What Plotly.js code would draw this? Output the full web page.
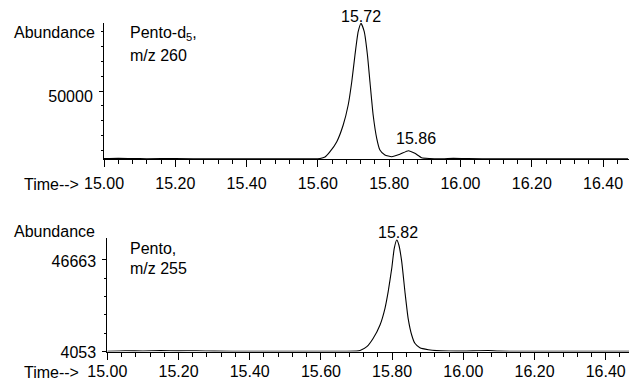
<!DOCTYPE html>
<html>
<head>
<meta charset="utf-8">
<script src="https://cdn.plot.ly/plotly-3.0.1.min.js"></script>
<style>html,body{margin:0;padding:0;background:#fff;}#chart{width:629px;height:387px;}</style>
</head>
<body>
<div id="chart"></div>
<script>
// Top panel: Pento-d5, m/z 260
const timeTop = [15.00,15.04,15.08,15.12,15.20,15.30,15.40,15.50,15.58,15.606,15.620,15.634,15.653,15.671,15.685,15.695,15.704,15.713,15.721,15.730,15.739,15.746,15.755,15.765,15.774,15.788,15.807,15.830,15.854,15.872,15.891,15.914,15.95,15.98,16.02,16.10,16.20,16.30,16.40,16.47];
const abundTop = [4300,4500,4350,4250,4300,4200,4250,4200,4250,4400,5400,8980,15740,27020,40540,56280,74320,90070,95700,90070,74320,56280,33780,18040,10130,6750,5600,7230,9660,7900,4930,4400,4250,4500,4300,4250,4200,4200,4200,4200];
// Bottom panel: Pento, m/z 255
const timeBot = [15.00,15.05,15.10,15.15,15.20,15.25,15.30,15.40,15.50,15.60,15.70,15.710,15.729,15.747,15.766,15.780,15.789,15.799,15.806,15.813,15.819,15.827,15.836,15.845,15.855,15.864,15.878,15.902,15.925,15.96,16.00,16.07,16.10,16.20,16.30,16.40,16.466];
const abundBot = [4150,4400,4300,4450,4350,4400,4200,4150,4150,4150,4200,4500,6290,10200,16390,24170,31900,42800,52110,55980,53650,45880,31900,19510,11740,7870,5820,4900,4450,4250,4200,4500,4200,4150,4150,4150,4150];

const xMajorTicks = [15.00,15.20,15.40,15.60,15.80,16.00,16.20,16.40];
const xTickText = ['15.00','15.20','15.40','15.60','15.80','16.00','16.20','16.40'];
const yTopTicks = [50000];
const yTopTickText = ['50000'];
const yTopMinor = [10000,20000,30000,40000,60000,70000,80000,90000];
const yBotTicks = [4053,46663];
const yBotTickText = ['4053','46663'];
const yBotMinor = [12575,21097,29619,38141];

const peakTop = [{t:15.72, label:'15.72', v:95700}, {t:15.86, label:'15.86', v:9660}];
const peakBot = [{t:15.82, label:'15.82', v:55980}];

const FONT = 'Liberation Sans, Arial, Helvetica, sans-serif';
const W = 629, H = 387;
const px = x => x / W;
const py = y => 1 - y / H;

const lineStyle = {color:'#000', width:1.1, shape:'spline', smoothing:0.5};

const traces = [
  {x: timeTop, y: abundTop, xaxis:'x', yaxis:'y', mode:'lines', line: lineStyle, hoverinfo:'skip'},
  {x: timeBot, y: abundBot, xaxis:'x2', yaxis:'y2', mode:'lines', line: lineStyle, hoverinfo:'skip'}
];

function xAxis(domain, range, anchor, standoff) {
  return {
    domain: domain, range: range, anchor: anchor,
    showline: true, linecolor:'#000', linewidth:1,
    showgrid:false, zeroline:false,
    tickmode:'array', tickvals: xMajorTicks, ticktext: xTickText,
    ticks:'outside', ticklen:7, tickwidth:1, tickcolor:'#000',
    minor: {tickmode:'linear', tick0:15, dtick:0.04, ticks:'outside', ticklen:4, tickwidth:1, tickcolor:'#000', showgrid:false},
    tickfont: {family: FONT, size:16, color:'#000'},
    ticklabelstandoff: standoff,
    automargin:false, fixedrange:true
  };
}
function yAxis(domain, range, anchor, tv, tt, minorVals, shift) {
  return {
    domain: domain, range: range, anchor: anchor,
    showline: true, linecolor:'#000', linewidth:1,
    showgrid:false, zeroline:false,
    tickmode:'array', tickvals: tv, ticktext: tt,
    ticks:'outside', ticklen:4, tickwidth:1, tickcolor:'#000',
    minor: {tickmode:'array', tickvals: minorVals, ticks:'outside', ticklen:2, tickwidth:1, tickcolor:'#000', showgrid:false},
    tickfont: {family: FONT, size:16, color:'#000'},
    ticklabelstandoff: 3,
    ticklabelshift: shift,
    automargin:false, fixedrange:true
  };
}

const ann = [];
function txt(text, xpix, baseline) {
  ann.push({text:text, xref:'paper', yref:'paper', x: px(xpix), y: py(baseline - 5.6),
    xanchor:'left', yanchor:'middle', showarrow:false, font:{family:FONT, size:16, color:'#000'}});
}
txt('Abundance', 11.7, 37.8);
txt('Pento-d<sub>5</sub>,', 128, 39.5);
txt('m/z 260', 128, 61);
txt('Time-->', 21.7, 189.7);
txt('Abundance', 11.7, 237);
txt('Pento,', 128, 254);
txt('m/z 255', 128, 274);
txt('Time-->', 21.7, 378.3);

peakTop.forEach((p, i) => ann.push({text:p.label, x:p.t, y:p.v, xref:'x', yref:'y', xanchor:'center', yanchor:'bottom',
  showarrow:false, xshift: i === 0 ? 0 : 5, yshift: i === 0 ? -4 : 2, font:{family:FONT, size:16, color:'#000'}}));
peakBot.forEach(p => ann.push({text:p.label, x:p.t, y:p.v, xref:'x2', yref:'y2', xanchor:'center', yanchor:'bottom',
  showarrow:false, xshift:-1, yshift:-3, font:{family:FONT, size:16, color:'#000'}}));

const layout = {
  width: W, height: H,
  margin: {l:0, r:0, t:0, b:0},
  paper_bgcolor:'#fff', plot_bgcolor:'#fff',
  showlegend:false,
  font: {family: FONT, size:16, color:'#000'},
  xaxis: xAxis([px(104), 1], [15.00, 16.4727], 'y', 3),
  yaxis: yAxis([py(159), py(23)], [4050, 95950], 'x', yTopTicks, yTopTickText, yTopMinor, 5),
  xaxis2: xAxis([px(107.3), 1], [15.00, 16.4654], 'y2', -2),
  yaxis2: yAxis([py(351.6), py(238)], [4000, 56900], 'x2', yBotTicks, yBotTickText, yBotMinor, 1),
  annotations: ann
};

Plotly.newPlot('chart', traces, layout, {staticPlot:true, displayModeBar:false});
</script>
</body>
</html>
